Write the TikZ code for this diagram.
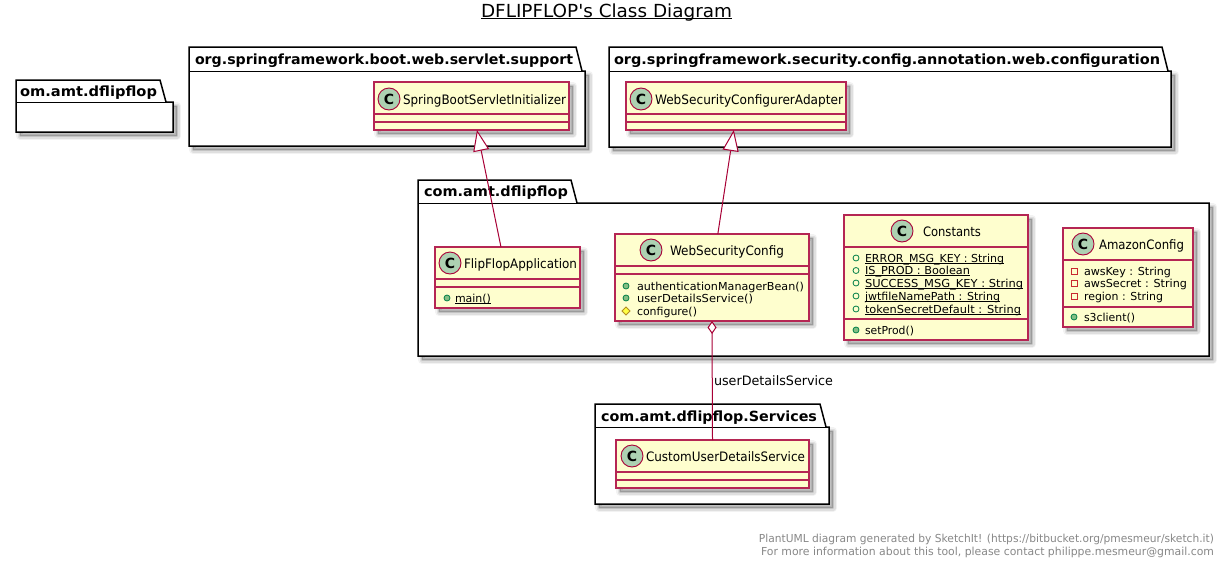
\documentclass[tikz,border=0pt]{standalone}
\usepackage{fontspec}
\setmainfont{DejaVu Sans}
\newfontfamily\titlefont{DejaVu Sans}
\usetikzlibrary{arrows.meta,calc}
\definecolor{umlline}{HTML}{A80036}
\definecolor{umlfill}{HTML}{FEFECE}
\definecolor{umlcirc}{HTML}{ADD1B2}
\definecolor{pubgreen}{HTML}{038048}
\definecolor{pubfill}{HTML}{84BE84}
\definecolor{privred}{HTML}{C82930}
\definecolor{protdark}{HTML}{B38D22}
\definecolor{protfill}{HTML}{FFFF44}
\definecolor{footgray}{HTML}{888888}
\colorlet{umlsoft}{umlline!85!white}
\newcommand{\fw}[2]{\resizebox{#1pt}{\height}{#2}}
\newcommand{\pumlul}[1]{\setbox0\hbox{#1}\rlap{\rule[-1.6pt]{\wd0}{0.8pt}}\box0}
\newcommand{\softshadow}[1]{%
  \begin{scope}[shift={(4,4)}]
    \fill[black,opacity=.20] #1;
    \draw[black,opacity=.12,line width=2.5pt,line join=round] #1;
    \draw[black,opacity=.08,line width=5pt,line join=round] #1;
    \draw[black,opacity=.05,line width=7.5pt,line join=round] #1;
  \end{scope}}
\newcommand{\pkgbox}[7]{%
  \softshadow{(#1,#5) -- (#6,#5) -- (#6,#7) -- (#1,#7) -- cycle}
  \draw[black,fill=white,line width=1.5pt,line join=miter]
    (#1,#5) -- (#1,#2) -- (#3,#2) -- (#4,#5) -- (#6,#5) -- (#6,#7) -- (#1,#7) -- cycle;
  \draw[black,line width=1pt] (#1,#5) -- (#4,#5);}
\newcommand{\pkglabel}[5]{\node[pkgtext] (#1) at (#2,#3) {\fw{#4}{\textbf{#5}}};}
\newcommand{\classbox}[7]{%
  \softshadow{(#2,#3) rectangle (#4,#5)}
  \node[clsbox,minimum width={(#4-#2)*1pt},minimum height={(#5-#3)*1pt}] (#1) at ({(#2+#4)/2},{(#3+#5)/2}) {};
  \draw[umlsoft,line width=1.15pt] (#2,#6) -- (#4,#6) (#2,#7) -- (#4,#7);}
\newcommand{\classhead}[6]{%
  \node[clscirc] (#1c) at (#2,#3) {\textbf{C}};
  \node[clstext] (#1t) at (#4,{#3+5}) {\fw{#5}{#6}};}
\newcommand{\iconpubm}[2]{\fill[pubfill,draw=pubgreen,line width=.8pt] (#1,#2) circle (3);}
\newcommand{\iconpubf}[2]{\draw[pubgreen,line width=.8pt] (#1,#2) circle (3);}
\newcommand{\iconpriv}[2]{\draw[privred,line width=.8pt] ({#1-3},{#2-3}) rectangle ({#1+3},{#2+3});}
\newcommand{\iconprot}[2]{\fill[protfill,draw=protdark,line width=.8pt] ({#1-4},#2) -- (#1,{#2-4}) -- ({#1+4},#2) -- (#1,{#2+4}) -- cycle;}
\newcommand{\member}[5]{\node[memtext] (#1) at (#2,{#3+4}) {\fw{#4}{#5}};}
\tikzset{
  x=1pt,y=-1pt,
  pkgtext/.style={anchor=base west,inner sep=0pt,outer sep=0pt,font=\fontsize{14}{16}\selectfont},
  clsbox/.style={draw=umlsoft,fill=umlfill,line width=1.15pt,inner sep=0pt,outer sep=0pt,rectangle},
  clscirc/.style={circle,draw=umlline,fill=umlcirc,line width=.9pt,minimum size=22pt,inner sep=0pt,font=\fontsize{14}{16}\selectfont},
  clstext/.style={anchor=base west,inner sep=0pt,outer sep=0pt,font=\fontsize{13}{15}\selectfont},
  memtext/.style={anchor=base west,inner sep=0pt,outer sep=0pt,font=\fontsize{11}{13}\selectfont},
  footnode/.style={anchor=base east,inner sep=0pt,outer sep=0pt,text=footgray,font=\fontsize{11}{13}\selectfont},
  connector/.style={umlline,line width=1pt},
}
\begin{document}
\begin{tikzpicture}
\useasboundingbox[fill=white] (0,0) rectangle (1225,562);
% title
\node[inner sep=0pt,outer sep=0pt,anchor=base west,font=\fontsize{18}{20}\titlefont] (title) at (481,17) {\fw{251}{\setbox0\hbox{DFLIPFLOP's Class Diagram}\rlap{\rule[-2.4pt]{\wd0}{1pt}}\box0}};
% packages
\pkgbox{16}{80}{160}{166}{102}{173}{132}
\pkglabel{pkgom}{20}{96}{137}{om.amt.dflipflop}
\pkgbox{189}{47}{576}{582}{71}{585}{146}
\pkglabel{pkgboot}{195}{64}{378}{org.springframework.boot.web.servlet.support}
\pkgbox{609}{47}{1162}{1168}{71}{1171}{147}
\pkglabel{pkgsec}{614}{64}{546}{org.springframework.security.config.annotation.web.configuration}
\pkgbox{418}{180}{571}{577}{203}{1209}{356}
\pkglabel{pkgcom}{424}{196}{144}{com.amt.dflipflop}
\pkgbox{595}{404}{820}{826}{427}{829}{504}
\pkglabel{pkgsvc}{601}{421}{216}{com.amt.dflipflop.Services}
% classes
\classbox{spring}{374}{82}{569}{130}{114}{122}
\classhead{spring}{389}{99}{403}{163}{SpringBootServletInitializer}
\classbox{adapter}{626}{82}{846}{130}{114}{122}
\classhead{adapter}{641}{99}{655}{188}{WebSecurityConfigurerAdapter}
\classbox{flip}{435}{247}{580}{308}{279}{287}
\classhead{flip}{450}{263}{464}{113}{FlipFlopApplication}
\iconpubm{447}{298}
\member{flipm1}{455}{298}{36}{\pumlul{main()}}
\classbox{wsc}{615}{234}{809}{321}{266}{274}
\classhead{wsc}{651}{250}{670}{114}{WebSecurityConfig}
\iconpubm{626}{286}\member{wscm1}{637}{286}{167}{authenticationManagerBean()}
\iconpubm{626}{298}\member{wscm2}{637}{298}{116}{userDetailsService()}
\iconprot{626}{311}\member{wscm3}{637}{311}{60}{configure()}
\classbox{const}{844}{215}{1028}{340}{247}{319}
\classhead{const}{902}{231}{923}{58}{Constants}
\iconpubf{856}{258}\member{constf1}{865}{258}{139}{\pumlul{ERROR\_MSG\_KEY : String}}
\iconpubf{856}{270.5}\member{constf2}{865}{270.5}{105}{\pumlul{IS\_PROD : Boolean}}
\iconpubf{856}{283}\member{constf3}{865}{283}{158}{\pumlul{SUCCESS\_MSG\_KEY : String}}
\iconpubf{856}{296}\member{constf4}{865}{296}{135}{\pumlul{jwtfileNamePath : String}}
\iconpubf{856}{309}\member{constf5}{865}{309}{156}{\pumlul{tokenSecretDefault : String}}
\iconpubm{856}{330}\member{constm1}{865}{330}{49}{setProd()}
\classbox{amazon}{1063}{228}{1193}{327}{260}{307}
\classhead{amazon}{1083}{244}{1099}{85}{AmazonConfig}
\iconpriv{1074}{271}\member{amzf1}{1084}{271}{87}{awsKey : String}
\iconpriv{1074}{283}\member{amzf2}{1084}{283}{103}{awsSecret : String}
\iconpriv{1074}{296}\member{amzf3}{1084}{296}{79}{region : String}
\iconpubm{1074}{317}\member{amzm1}{1084}{317}{51}{s3client()}
\classbox{custom}{616}{440}{809}{488}{472}{480}
\classhead{custom}{632}{456}{646}{159}{CustomUserDetailsService}
% connectors
\draw[connector,-{Triangle[open,fill=white,length=21pt,width=16pt,line width=1pt]}]
  ($(flip.north west)!0.455!(flip.north east)$) -- ($(spring.south west)!0.528!(spring.south east)$);
\draw[connector,-{Triangle[open,fill=white,length=21pt,width=16pt,line width=1pt]}]
  ($(wsc.north west)!0.53!(wsc.north east)$) -- ($(adapter.south west)!0.49!(adapter.south east)$);
\draw[connector,{Diamond[open,fill=white,length=13pt,width=9pt,line width=1pt]}-]
  ($(wsc.south west)!0.5!(wsc.south east)$) -- ($(custom.north west)!0.5!(custom.north east)$);
\node[clstext] (edgelabel) at (714,385) {\fw{119}{userDetailsService}};
% footer
\node[footnode] (foot1) at (1214,542) {\fw{455}{PlantUML diagram generated by SketchIt! (https://bitbucket.org/pmesmeur/sketch.it)}};
\node[footnode] (foot2) at (1214,555) {\fw{453}{For more information about this tool, please contact philippe.mesmeur@gmail.com}};
\end{tikzpicture}
\end{document}
